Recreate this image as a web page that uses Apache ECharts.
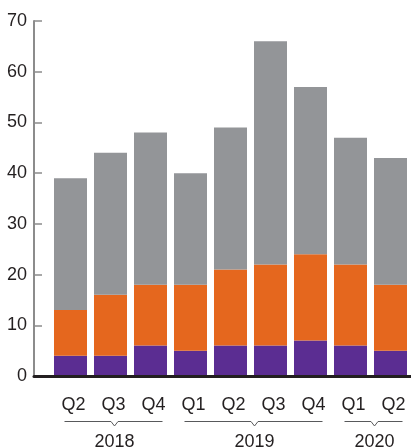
<!DOCTYPE html>
<html><head><meta charset="utf-8">
<script src="https://cdn.jsdelivr.net/npm/echarts@6/dist/echarts.min.js"></script>
<style>html,body{margin:0;padding:0;background:#fff}#c{width:411px;height:447px}</style>
</head><body><div id="c"></div>
<script>
const quarters = ['Q2','Q3','Q4','Q1','Q2','Q3','Q4','Q1','Q2'];
const years = ['2018','2019','2020'];
const yearCounts = [3,4,2];
const purpleVals = [4,4,6,5,6,6,7,6,5];
const orangeVals = [9,12,12,13,15,16,17,16,13];
const grayVals = [26,28,30,22,28,44,33,25,25];
const yTicks = [0,10,20,30,40,50,60,70];

const FONT = '"Liberation Sans Narrow","Liberation Sans",Arial,sans-serif';
const TXT = '#231f20';
const chart = echarts.init(document.getElementById('c'), null, {renderer:'canvas'});
const gTop = 21, gBottom = 71;
chart.setOption({
  animation:false,
  grid:[
    {left:34, right:0, top:gTop, bottom:gBottom},
    {left:50.5, width:360, top:gTop, bottom:gBottom}
  ],
  xAxis:[
    {type:'value', gridIndex:0, min:0, max:1, position:'bottom',
     axisLine:{show:true, lineStyle:{color:TXT, width:3}},
     axisTick:{show:false}, axisLabel:{show:false}, splitLine:{show:false}, z:5},
    {type:'category', gridIndex:1, data:quarters,
     axisLine:{show:false}, axisTick:{show:false}, splitLine:{show:false},
     axisLabel:{fontFamily:FONT, fontSize:18, color:TXT, margin:20, padding:[0,0,0,6]}}
  ],
  yAxis:[
    {type:'value', gridIndex:0, min:yTicks[0], max:yTicks[yTicks.length-1], interval:10,
     axisLine:{show:true, lineStyle:{color:'#8c8c8c', width:2}},
     axisTick:{show:true, inside:true, length:8, lineStyle:{color:'#8c8c8c', width:1.5}},
     axisLabel:{fontFamily:FONT, fontSize:18, color:TXT, margin:7},
     splitLine:{show:false}},
    {type:'value', gridIndex:1, min:yTicks[0], max:yTicks[yTicks.length-1], show:false, splitLine:{show:false}}
  ],
  series:[
    {type:'bar', stack:'s', xAxisIndex:1, yAxisIndex:1, barWidth:33, data:purpleVals, itemStyle:{color:'#5b2d92'}},
    {type:'bar', stack:'s', xAxisIndex:1, yAxisIndex:1, barWidth:33, data:orangeVals, itemStyle:{color:'#e5671e'}},
    {type:'bar', stack:'s', xAxisIndex:1, yAxisIndex:1, barWidth:33, data:grayVals, itemStyle:{color:'#939598'}}
  ]
});

const graphics = [];
let idx = 0;
const lineY = 421.5;
years.forEach((yr, k) => {
  const first = idx, last = idx + yearCounts[k] - 1;
  idx += yearCounts[k];
  const c0 = chart.convertToPixel({xAxisIndex:1}, first);
  const c1 = chart.convertToPixel({xAxisIndex:1}, last);
  const x0 = c0 - 6, x1 = c1 + 12, n = (c0 + c1) / 2 + 4;
  graphics.push({type:'polyline', shape:{points:[[x0,lineY],[n-3.5,lineY],[n,lineY+4.5],[n+3.5,lineY],[x1,lineY]]},
    style:{stroke:'#58595b', lineWidth:1, fill:null}});
  graphics.push({type:'text', x:n, y:442, style:{text:yr, font:'18px ' + FONT, fill:TXT, textAlign:'center', textVerticalAlign:'middle'}});
});
chart.setOption({graphic:graphics});
</script></body></html>
